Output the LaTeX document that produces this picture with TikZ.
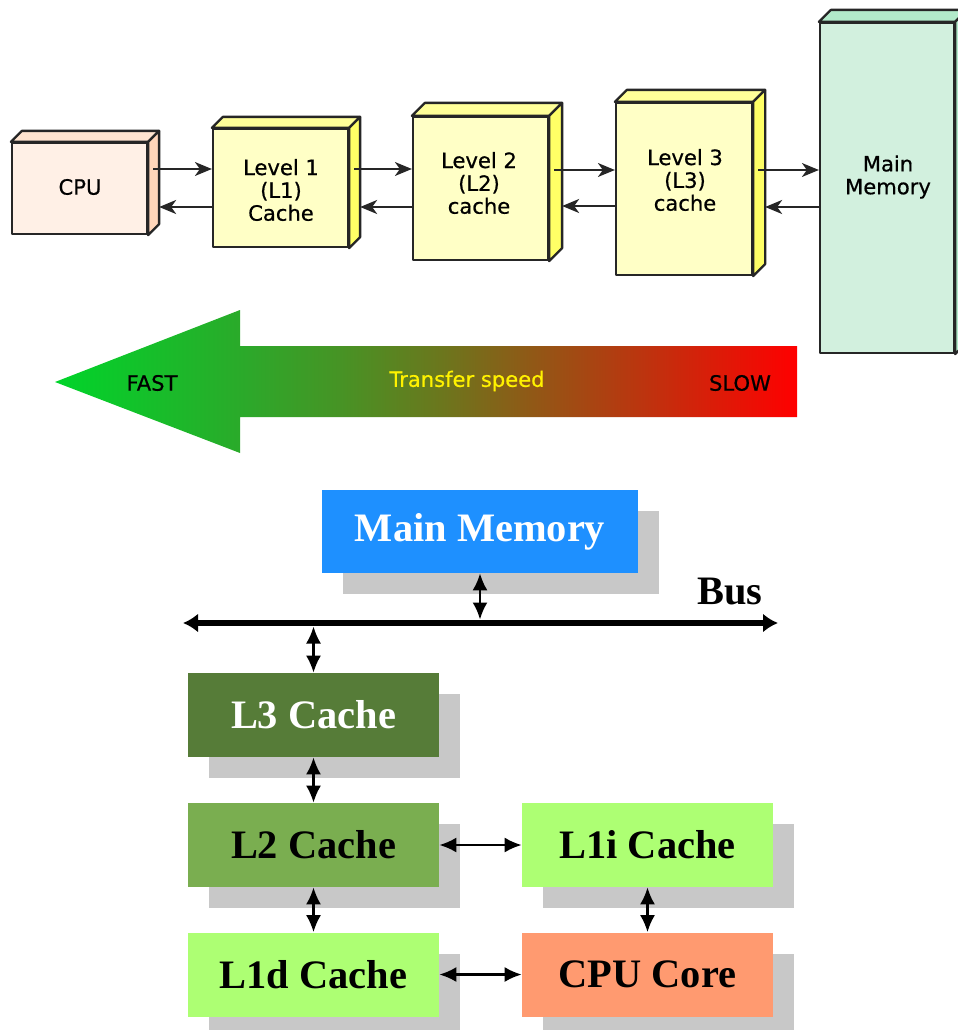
\documentclass[tikz,border=0pt]{standalone}
\usepackage{fontspec}
\setmainfont{Liberation Serif}
\newfontfamily\handfont[FakeBold=0.6]{DejaVu Sans}
\usepackage{tikz}
\usetikzlibrary{positioning, arrows.meta, calc, shadows}

\definecolor{cpufront}{HTML}{FFF0E6}
\definecolor{cpuside}{HTML}{FFD6BA}
\definecolor{cputop}{HTML}{FFE4D0}
\definecolor{cachefront}{HTML}{FFFFC6}
\definecolor{cacheside}{HTML}{FFFF66}
\definecolor{cachetop}{HTML}{FFFF99}
\definecolor{memfront}{HTML}{D2F0DE}
\definecolor{memtop}{HTML}{B2EACA}
\definecolor{memblue}{HTML}{1E90FF}
\definecolor{lthree}{HTML}{567C38}
\definecolor{ltwo}{HTML}{7AAE50}
\definecolor{lone}{HTML}{ADFF73}
\definecolor{corered}{HTML}{FF9A70}
\definecolor{shadowgray}{HTML}{C8C8C8}

\pgfdeclarehorizontalshading{speedshading}{100bp}{%
  color(0bp)=(rgb:red,0;green,1;blue,0.2);
  color(25bp)=(rgb:red,0;green,1;blue,0.2);
  color(37.5bp)=(rgb:red,0.2;green,0.8;blue,0.2);
  color(44bp)=(rgb:red,0.32;green,0.68;blue,0.17);
  color(51bp)=(rgb:red,0.48;green,0.53;blue,0.13);
  color(58bp)=(rgb:red,0.64;green,0.36;blue,0.09);
  color(65bp)=(rgb:red,0.8;green,0.21;blue,0.06);
  color(75bp)=(rgb:red,1;green,0;blue,0);
  color(100bp)=(rgb:red,1;green,0;blue,0)}

% side and top faces of a box, behind its front node
\newcommand{\boxfaces}[4]{%
  \filldraw[fill=#3, facedraw] (#1.north west) -- ++(#4,-#4) -- ($(#1.north east)+(#4,-#4)$) -- (#1.north east) -- cycle;
  \filldraw[fill=#2, facedraw] (#1.north east) -- ++(#4,-#4) -- ($(#1.south east)+(#4,-#4)$) -- (#1.south east) -- cycle;
}

\tikzset{
    facedraw/.style={draw=black!85, line width=1.3pt, line join=round},
    frontbox/.style={rectangle, facedraw, inner sep=0pt},
    handtext/.style={align=center, font=\handfont\fontsize{12}{13}\selectfont},
    fwd/.style={-{Stealth[length=0.34cm, width=0.28cm, inset=0.1cm]}, line width=0.7pt, black!85},
    back/.style={-{Stealth[length=0.34cm, width=0.28cm, inset=0.1cm]}, line width=1.4pt, black!85},
    level/.style={rectangle, inner sep=0pt, minimum width=5.02cm, minimum height=1.68cm,
        font=\fontsize{23}{26}\selectfont\bfseries,
        general shadow={shadow xshift=0.42cm, shadow yshift=-0.42cm, fill=shadowgray}},
    link/.style={{Latex[length=0.34cm, width=0.3cm]}-{Latex[length=0.34cm, width=0.3cm]}, line width=1.3pt},
    bus/.style={{Latex[length=0.3cm, width=0.38cm]}-{Latex[length=0.3cm, width=0.38cm]}, line width=3.4pt}
}

\begin{document}
\begin{tikzpicture}[x=0.02cm, y=-0.02cm]
    \useasboundingbox (0,0) rectangle (957,1030);

    % memory hierarchy, 3d boxes
    \node[frontbox, fill=cpufront, minimum width=2.7cm, minimum height=1.82cm] (cpu) at (79.5,188.5) {};
    \node[frontbox, fill=cachefront, minimum width=2.7cm, minimum height=2.36cm] (l1) at (280.5,188) {};
    \node[frontbox, fill=cachefront, minimum width=2.7cm, minimum height=2.86cm] (l2) at (480.5,188.5) {};
    \node[frontbox, fill=cachefront, minimum width=2.72cm, minimum height=3.44cm] (l3) at (684,189) {};
    \node[frontbox, fill=memfront, minimum width=2.68cm, minimum height=6.6cm] (mem) at (887,188) {};
    \boxfaces{cpu}{cpuside}{cputop}{11}
    \boxfaces{l1}{cacheside}{cachetop}{11}
    \boxfaces{l2}{cacheside}{cachetop}{13}
    \boxfaces{l3}{cacheside}{cachetop}{12}
    \boxfaces{mem}{memtop}{memtop}{12}

    \node[handtext] (cputext) at (80,187) {CPU};
    \node[handtext] (l1text) at (281,190) {Level 1\\(L1)\\Cache};
    \node[handtext] (l2text) at (479,183) {Level 2\\(L2)\\cache};
    \node[handtext] (l3text) at (685,180) {Level 3\\(L3)\\cache};
    \node[handtext] (memtext) at (888,177) {Main\\Memory};

    % requests go right, data comes back left
    \draw[fwd] ($(cpu.east |- 0,169)+(5,0)$) -- (l1.west |- 0,169);
    \draw[back] (l1.west |- 0,207) -- ($(cpu.east |- 0,207)+(11,0)$);
    \draw[fwd] ($(l1.east |- 0,169)+(5,0)$) -- (l2.west |- 0,169);
    \draw[back] (l2.west |- 0,207) -- ($(l1.east |- 0,207)+(11,0)$);
    \draw[fwd] ($(l2.east |- 0,170)+(5,0)$) -- (l3.west |- 0,170);
    \draw[back] (l3.west |- 0,206) -- ($(l2.east |- 0,206)+(13,0)$);
    \draw[fwd] ($(l3.east |- 0,170)+(5,0)$) -- (mem.west |- 0,170);
    \draw[back] (mem.west |- 0,207) -- ($(l3.east |- 0,207)+(12,0)$);

    % speed arrow
    \shade[shading=speedshading] (55,382) -- (240,310) -- (240,346) -- (797,346)
        -- (797,417) -- (240,417) -- (240,453) -- cycle;
    \node[handtext] (fast) at (152,383) {FAST};
    \node[handtext, text=yellow] (speed) at (467,381) {Transfer speed};
    \node[handtext] (slow) at (740,383) {SLOW};

    % bus diagram
    \node[level, fill=memblue, text=white, minimum width=6.32cm, minimum height=1.66cm,
        general shadow={shadow xshift=0.41cm, shadow yshift=-0.41cm, fill=shadowgray}] (mm) at (480,531.5) {Main Memory};
    \coordinate (busL) at (183,623);
    \coordinate (busR) at (778,623);
    \draw[bus] (busL) -- (busR);
    \node[font=\fontsize{23}{26}\selectfont\bfseries] (bustext) at (730,592) {Bus};

    \node[level, fill=lthree, text=white] (c3) at (313.5,715) {L3 Cache};
    \node[level, fill=ltwo] (c2) at (313.5,845) {L2 Cache};
    \node[level, fill=lone] (c1d) at (313.5,974.5) {L1d Cache};
    \node[level, fill=lone] (c1i) at (647.5,845) {L1i Cache};
    \node[level, fill=corered] (core) at (647.5,974.5) {CPU Core};

    \coordinate (busA) at (480,619.5);
    \coordinate (busB) at (313.5,626.5);
    \draw[link] (mm) -- (busA);
    \draw[link] (busB) -- (c3);
    \draw[link] (c3) -- (c2);
    \draw[link] (c2) -- (c1d);
    \draw[link] (c2) -- (c1i);
    \draw[link] (c1i) -- (core);
    \draw[link] (c1d) -- (core);
\end{tikzpicture}
\end{document}
